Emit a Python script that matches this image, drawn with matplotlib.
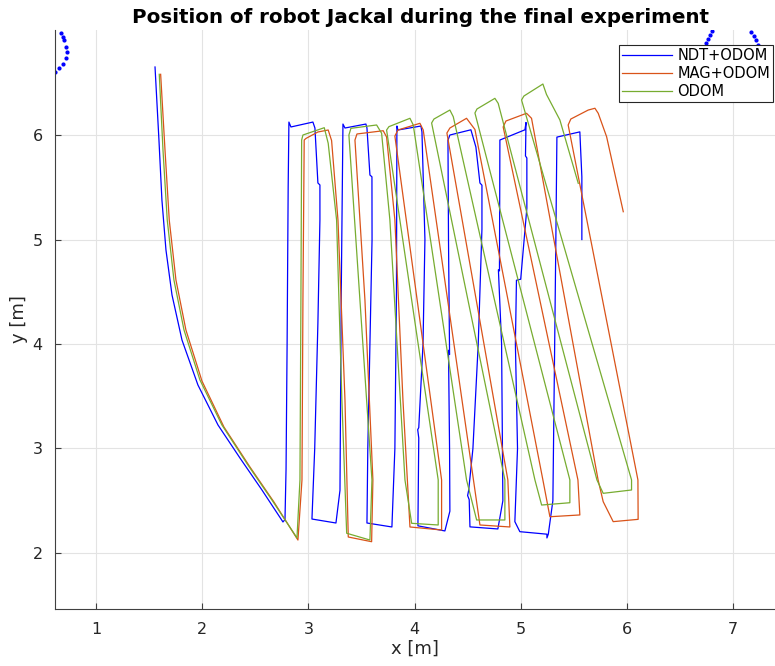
import matplotlib
matplotlib.use("Agg")
import matplotlib.pyplot as plt

# trajectories [m]
ndt_x = [1.556, 1.593, 1.621, 1.659, 1.716, 1.810, 1.960, 2.149, 2.356, 2.563, 2.761,
         2.78, 2.79, 2.80, 2.81, 2.817, 2.836, 3.043, 3.062, 3.09, 3.109, 3.109, 3.09, 3.06, 3.034,
         3.26, 3.298, 3.31, 3.326, 3.345, 3.542, 3.552, 3.58, 3.599, 3.60, 3.58, 3.56, 3.552,
         3.787, 3.815, 3.83, 3.834, 3.844, 4.06, 4.07, 4.098, 4.08, 4.04, 4.03, 4.04, 4.032,
         4.286, 4.333, 4.33, 4.32, 4.33, 4.32, 4.315, 4.333, 4.531, 4.578, 4.616, 4.635, 4.635, 4.60, 4.55, 4.51, 4.50, 4.515, 4.522,
         4.785, 4.832, 4.82, 4.79, 4.80, 4.804, 5.04, 5.05, 5.045, 5.058, 5.058, 5.0, 4.96, 4.95, 4.97, 4.945, 4.992,
         5.247, 5.247, 5.26, 5.303, 5.32, 5.33, 5.341, 5.557, 5.576, 5.576]
ndt_y = [6.651, 5.952, 5.378, 4.900, 4.469, 4.038, 3.608, 3.225, 2.909, 2.603, 2.297,
         2.32, 2.8, 4.0, 5.5, 6.124, 6.077, 6.124, 6.067, 5.541, 5.522, 5.187, 4.2, 3.0, 2.325,
         2.287, 2.6, 4.5, 6.105, 6.067, 6.105, 6.067, 5.617, 5.60, 5.0, 4.0, 3.0, 2.287,
         2.249, 3.0, 4.5, 6.086, 6.048, 6.086, 6.03, 5.0, 4.0, 3.2, 3.18, 3.1, 2.26,
         2.211, 2.4, 3.0, 3.94, 3.9, 5.0, 5.95, 6.0, 6.05, 5.885, 5.541, 5.52, 5.1, 4.0, 3.0, 2.6, 2.55, 2.51, 2.25,
         2.23, 2.5, 4.0, 4.71, 4.7, 5.952, 6.05, 6.12, 5.80, 5.78, 5.3, 4.62, 4.61, 4.0, 3.0, 2.30, 2.204,
         2.18, 2.144, 2.18, 2.5, 4.0, 4.9, 5.98, 6.03, 5.6, 5.0]

mag_x = [1.609, 1.650, 1.690, 1.753, 1.847, 1.998, 2.205, 2.450, 2.676, 2.902,
         2.940, 2.949, 2.961, 2.977, 3.090, 3.187, 3.219, 3.279, 3.345, 3.376,
         3.596, 3.608, 3.533, 3.439, 3.458, 3.705, 3.737, 3.815, 3.891, 3.957,
         4.255, 4.255, 3.815, 3.844, 4.051, 4.082, 4.616,
         4.898, 4.879, 4.305, 4.333, 4.490, 4.569, 5.209, 5.275,
         5.557, 5.539, 4.835, 4.861, 5.055, 5.102, 5.729, 5.777, 5.871,
         6.106, 6.104, 5.447, 5.472, 5.636, 5.699, 5.730, 5.809, 5.966]
mag_y = [6.581, 5.856, 5.187, 4.613, 4.134, 3.646, 3.206, 2.823, 2.488, 2.124,
         2.699, 4.421, 5.952, 5.967, 6.029, 6.048, 5.947, 5.187, 3.464, 2.153,
         2.108, 2.699, 4.421, 5.952, 6.010, 6.041, 5.981, 5.187, 3.464, 2.249,
         2.220, 2.699, 5.990, 6.048, 6.112, 6.048, 2.268,
         2.249, 2.699, 6.019, 6.067, 6.160, 6.053, 2.699, 2.347,
         2.364, 2.699, 6.077, 6.134, 6.208, 6.160, 2.699, 2.491, 2.300,
         2.322, 2.699, 6.096, 6.153, 6.239, 6.256, 6.208, 5.984, 5.266]

odom_x = [1.596, 1.631, 1.671, 1.734, 1.829, 1.979, 2.186, 2.431, 2.657, 2.893,
          2.921, 2.930, 2.937, 2.949, 3.150, 3.187, 3.266, 3.316, 3.361,
          3.580, 3.599, 3.382, 3.401, 3.643, 3.690, 3.768, 3.910, 3.973,
          4.223, 4.223, 3.737, 3.759, 3.957, 3.988, 4.490, 4.585,
          4.851, 4.851, 4.161, 4.183, 4.333, 4.365, 5.134, 5.197,
          5.463, 5.463, 4.569, 4.588, 4.757, 4.788, 5.718, 5.777,
          6.044, 6.044, 5.008, 5.030, 5.209, 5.243, 5.369, 5.542]
odom_y = [6.581, 5.856, 5.187, 4.613, 4.134, 3.656, 3.225, 2.842, 2.507, 2.144,
          2.699, 4.421, 5.952, 6.0, 6.070, 5.921, 5.187, 3.464, 2.189,
          2.124, 2.699, 6.0, 6.064, 6.096, 6.017, 5.187, 2.699, 2.284,
          2.268, 2.699, 6.048, 6.080, 6.160, 6.096, 2.699, 2.316,
          2.316, 2.699, 6.115, 6.153, 6.239, 6.175, 2.699, 2.459,
          2.481, 2.699, 6.211, 6.249, 6.351, 6.303, 2.699, 2.571,
          2.603, 2.699, 6.335, 6.373, 6.488, 6.388, 6.144, 5.538]

# boundary markers (dotted arcs)
arc_left_x = [0.668, 0.686, 0.702, 0.718, 0.724, 0.715, 0.686, 0.654, 0.614]
arc_left_y = [6.973, 6.941, 6.909, 6.845, 6.791, 6.734, 6.679, 6.638, 6.606]
arc_right_x = [6.744, 6.763, 6.782, 6.800, 7.167, 7.195, 7.214, 7.234]
arc_right_y = [6.880, 6.919, 6.957, 6.995, 6.986, 6.947, 6.909, 6.861]

fig = plt.figure(figsize=(7.75, 6.66), dpi=100)
ax = fig.add_axes([55 / 775, 57 / 666, 720 / 775, 579 / 666])

ax.plot(ndt_x, ndt_y, color=(0, 0, 1), lw=0.9, label="NDT+ODOM")
ax.plot(mag_x, mag_y, color="#D95319", lw=0.9, label="MAG+ODOM")
ax.plot(odom_x, odom_y, color="#77AC30", lw=0.9, label="ODOM")
ax.plot(arc_left_x, arc_left_y, ".", color="b", ms=4)
ax.plot(arc_right_x, arc_right_y, ".", color="b", ms=4)

ax.set_xlim(0.614, 7.395)
ax.set_ylim(1.464, 7.005)
ax.set_xticks(range(1, 8))
ax.set_yticks(range(2, 7))
ax.grid(True, color="#e3e3e3", lw=0.8)
ax.set_axisbelow(True)
for s in ["top", "right"]:
    ax.spines[s].set_visible(False)
for s in ["left", "bottom"]:
    ax.spines[s].set_color("#404040")
    ax.spines[s].set_linewidth(0.8)
ax.tick_params(direction="in", length=4, color="#404040", labelcolor="#262626",
               labelsize=11.5, pad=9)

ax.set_xlabel("x [m]", fontsize=13, color="#262626", labelpad=2)
ax.set_ylabel("y [m]", fontsize=13, color="#262626", labelpad=3)
ax.set_title("Position of robot Jackal during the final experiment",
             fontsize=14.3, fontweight="bold", pad=5, x=0.508)

leg = ax.legend(loc="upper right", bbox_to_anchor=(0.9975, 0.974), fontsize=10.5,
                fancybox=False, framealpha=1, borderpad=0.2, labelspacing=0.22,
                handlelength=3.4, handletextpad=0.4, borderaxespad=0)
leg.get_frame().set_edgecolor("#262626")
leg.get_frame().set_linewidth(0.8)

fig.savefig("out.png", dpi=100)
